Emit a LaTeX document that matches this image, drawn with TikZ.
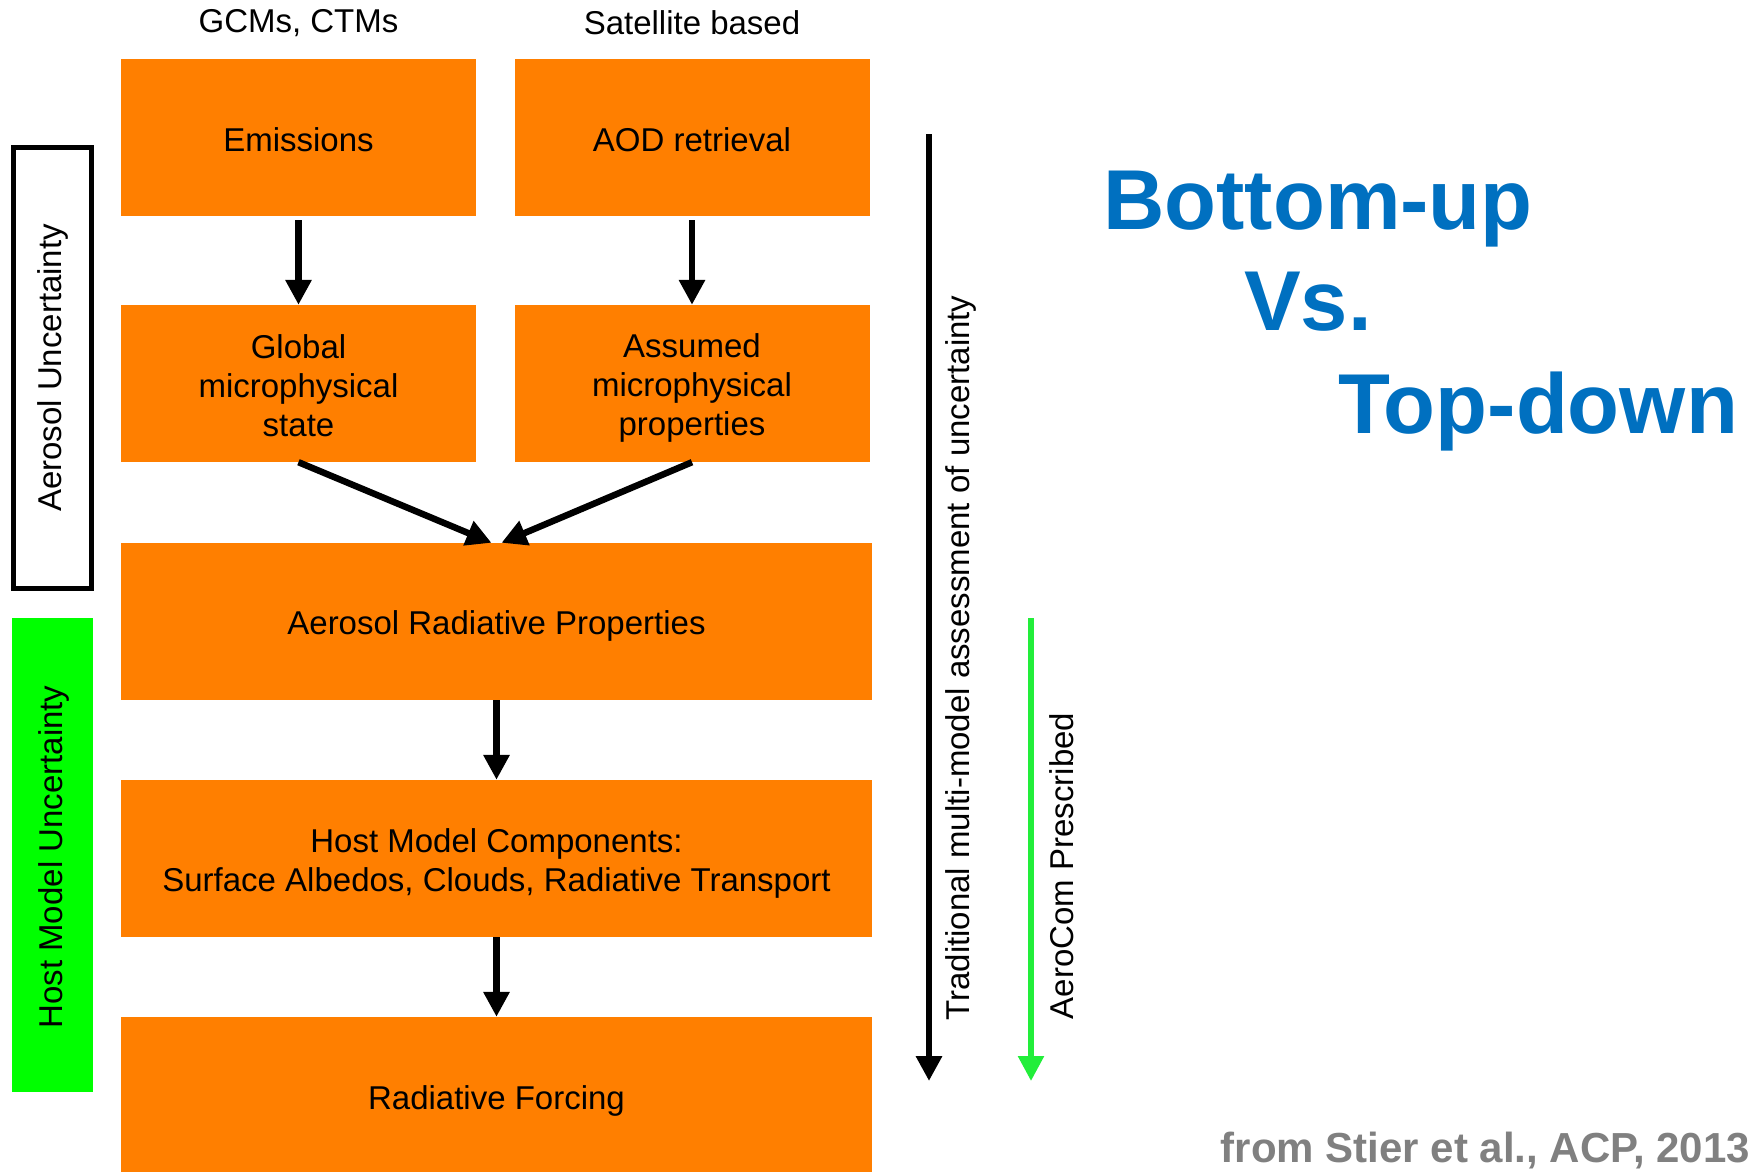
\documentclass[tikz,border=0pt]{standalone}
\usepackage{fontspec}
\setmainfont{Liberation Sans}
\usetikzlibrary{arrows.meta}
\definecolor{boxorange}{HTML}{FF7F00}
\definecolor{boxgreen}{HTML}{00FF00}
\definecolor{arrgreen}{HTML}{22EE3A}
\definecolor{titleblue}{HTML}{0070C0}
\definecolor{credgray}{HTML}{808080}
\begin{document}
\begin{tikzpicture}[x=1pt,y=-1pt,
  obox/.style={fill=boxorange,draw=none,inner sep=0pt},
  btxt/.style={inner sep=0pt,align=center,font=\fontsize{33}{39}\selectfont},
  small/.style={minimum width=355pt,minimum height=157pt},
  wide/.style={minimum width=751pt,minimum height=157pt},
  flow/.style={line width=6.5pt,-{Triangle[width=25pt,length=25pt]}},
  lbl/.style={inner sep=0pt,font=\fontsize{33}{39}\selectfont},
  big/.style={inner sep=0pt,anchor=base west,text=titleblue,font=\fontsize{85}{100}\selectfont\bfseries}]
\useasboundingbox (0,0) rectangle (1753,1172);
\fill[white] (0,0) rectangle (1753,1172);
% top labels
\node[lbl] (gcm) at (298.5,23) {GCMs, CTMs};
\node[lbl] (sat) at (692,23) {Satellite based};
% boxes
\node[obox,small] (em) at (298.5,137.5) {};
\node[obox,small] (aod) at (692,137.5) {};
\node[obox,small] (gl) at (298.5,383.5) {};
\node[obox,small] (as) at (692,383.5) {};
\node[obox,wide] (arp) at (496.5,621.5) {};
\node[obox,wide] (host) at (496.5,858.5) {};
\node[obox,wide] (rf) at (496.5,1095.5) {};
% box texts
\node[btxt] (emt) at ([yshift=-2.5pt]em.center) {Emissions};
\node[btxt] (aodt) at ([yshift=-2.5pt]aod.center) {AOD retrieval};
\node[btxt] (glt) at ([yshift=-2.5pt]gl.center) {Global\\microphysical\\state};
\node[btxt] (ast) at ([yshift=-4.5pt]as.center) {Assumed\\microphysical\\properties};
\node[btxt] (arpt) at ([yshift=-4.5pt]arp.center) {Aerosol Radiative Properties};
\node[btxt] (hostt) at ([yshift=-4.5pt]host.center) {Host Model Components:\\Surface Albedos, Clouds, Radiative Transport};
\node[btxt] (rft) at ([yshift=-5.5pt]rf.center) {Radiative Forcing};
% flow arrows
\draw[flow] ([yshift=-4pt]em.south) -- (gl.north);
\draw[flow] ([yshift=-4pt]aod.south) -- (as.north);
\draw[flow] (gl.south) -- ([xshift=-5pt]arp.north);
\draw[flow] (as.south) -- ([xshift=5pt]arp.north);
\draw[flow] (arp.south) -- (host.north);
\draw[flow] (host.south) -- (rf.north);
% left side boxes
\node[draw=black,line width=5pt,minimum width=78pt,minimum height=441pt,inner sep=0pt] (aer) at (52.5,368) {};
\node[lbl,rotate=90] (aerl) at (aer.center) {Aerosol Uncertainty};
\node[fill=boxgreen,minimum width=81pt,minimum height=474pt,inner sep=0pt] (hm) at (52.5,855) {};
\node[lbl,rotate=90] (hml) at (54,857) {Host Model Uncertainty};
% right side arrows
\coordinate (t1) at (929,134);
\coordinate (t2) at (929,1081);
\draw[line width=6.5pt,-{Triangle[width=25pt,length=25pt]}] (t1) -- (t2);
\node[lbl,rotate=90] (trad) at (961,658) {Traditional multi-model assessment of uncertainty};
\coordinate (g1) at (1031,618);
\coordinate (g2) at (1031,1081);
\draw[line width=5.5pt,arrgreen,-{Triangle[width=25pt,length=25pt]}] (g1) -- (g2);
\node[lbl,rotate=90] (aero) at (1062,866) {AeroCom Prescribed};
% title
\node[big] (b1) at (1103,229) {Bottom-up};
\node[big] (b2) at (1244,330) {Vs.};
\node[big] (b3) at (1338,433) {Top-down};
% credit
\node[inner sep=0pt,anchor=base east,text=credgray,font=\fontsize{42}{48}\selectfont\bfseries] (cred) at (1750,1162) {from Stier et al., ACP, 2013};
\end{tikzpicture}
\end{document}
